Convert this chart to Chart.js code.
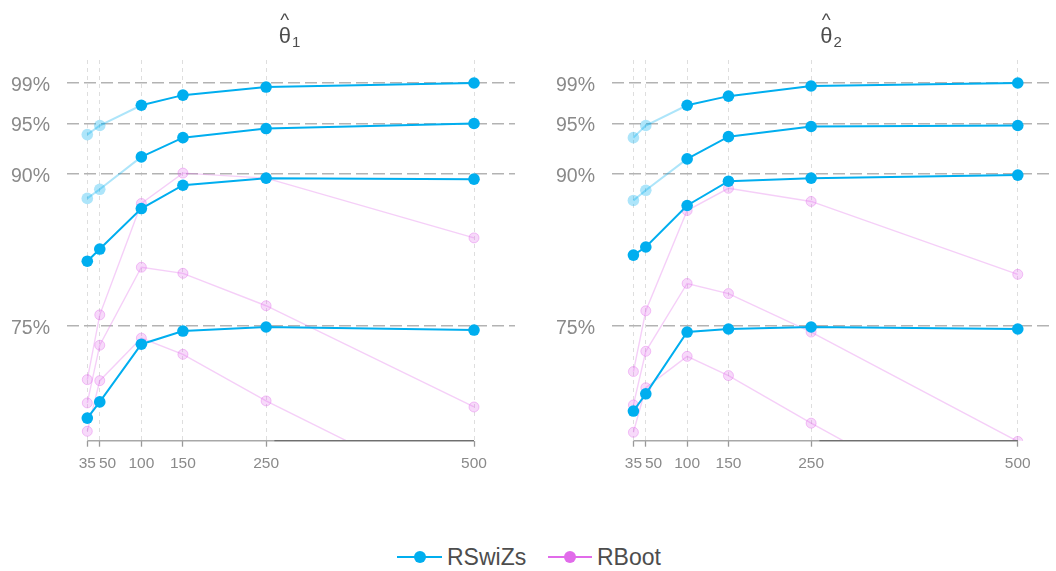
<!DOCTYPE html>
<html>
<head>
<meta charset="utf-8">
<script src="https://cdn.jsdelivr.net/npm/chart.js@4.4.0/dist/chart.umd.min.js"></script>
<style>
  html, body { margin:0; padding:0; background:#fff; width:1056px; height:571px; overflow:hidden; font-family:"Liberation Sans", Arial, sans-serif; }
  #c1 { position:absolute; left:0; top:0; }
  #c2 { position:absolute; left:530px; top:0; }
  .lg-line { position:absolute; height:2px; top:556px; }
  .lg-dot { position:absolute; width:12px; height:12px; border-radius:50%; top:551px; }
  .lg-txt { position:absolute; top:543px; font-size:23px; line-height:28px; color:#4d4d4d; }
</style>
</head>
<body>
<canvas id="c1" width="530" height="490"></canvas>
<canvas id="c2" width="526" height="490"></canvas>

<div class="lg-line" style="left:397px;width:45px;background:#00AEEF"></div>
<div class="lg-dot" style="left:414px;background:#00AEEF"></div>
<div class="lg-txt" style="left:447px">RSwiZs</div>
<div class="lg-line" style="left:548px;width:44px;background:#E16BEA"></div>
<div class="lg-dot" style="left:564px;background:#E16BEA"></div>
<div class="lg-txt" style="left:597px">RBoot</div>

<script>
// ---- data ----
const sampleSizes = [35, 50, 100, 150, 250, 500];
const xTickLabels = ['35', '\u200350', '100', '150', '250', '500'];
const yTickValues = [75, 90, 95, 99];
const seriesNames = ['RSwiZs', 'RBoot'];

// theta_1 panel
const t1_RSwiZs_99 = [93.9, 94.8, 96.8, 97.8, 98.6, 99.0];
const t1_RSwiZs_95 = [87.6, 88.5, 91.7, 93.6, 94.5, 95.0];
const t1_RSwiZs_90 = [81.4, 82.6, 86.6, 88.9, 89.6, 89.5];
const t1_RSwiZs_75 = [65.9, 67.5, 73.2, 74.5, 74.9, 74.6];
const t1_RBoot_99  = [69.7, 76.1, 87.1, 90.1, 89.6, 83.7];
const t1_RBoot_95  = [67.4, 73.1, 80.8, 80.2, 77.0, 67.0];
const t1_RBoot_90  = [64.6, 69.6, 73.8, 72.2, 67.6, 57.4];

// theta_2 panel
const t2_RSwiZs_99 = [93.6, 94.8, 96.8, 97.7, 98.7, 99.0];
const t2_RSwiZs_95 = [87.4, 88.4, 91.5, 93.7, 94.7, 94.8];
const t2_RSwiZs_90 = [82.0, 82.8, 86.9, 89.3, 89.6, 89.9];
const t2_RSwiZs_75 = [66.6, 68.3, 74.4, 74.7, 74.9, 74.7];
const t2_RBoot_99  = [70.5, 76.5, 86.4, 88.6, 87.3, 80.1];
const t2_RBoot_95  = [67.2, 72.5, 79.2, 78.2, 74.4, 63.6];
const t2_RBoot_90  = [64.5, 68.9, 72.0, 70.1, 65.4, 54.2];

// which points are drawn faded (per sample size) for the upper two RSwiZs levels
const fadedHigh = [true, true, false, false, false, false];
const fadedNone = [false, false, false, false, false, false];

// ---- styling ----
const BLUE = 'rgba(0,174,239,1)';
const BLUE_LIGHT = 'rgba(0,174,239,0.32)';
const PINK_LINE = 'rgba(225,107,234,0.32)';
const PINK_FILL = 'rgba(225,107,234,0.26)';
const PINK_BORDER = 'rgba(225,107,234,0.38)';
const FONT = '"Liberation Sans", Arial, sans-serif';

function blueSet(vals, faded) {
  return {
    label: seriesNames[0],
    data: sampleSizes.map((n, i) => ({x: n, y: vals[i]})),
    borderColor: BLUE,
    borderWidth: 2,
    pointRadius: 5.8,
    pointBorderWidth: 0,
    pointBackgroundColor: faded.map(f => f ? BLUE_LIGHT : BLUE),
    pointHoverRadius: 5.8,
    segment: { borderColor: ctx => faded[ctx.p0DataIndex] ? BLUE_LIGHT : BLUE },
    clip: 0,
    tension: 0
  };
}
function pinkSet(vals) {
  return {
    label: seriesNames[1],
    data: sampleSizes.map((n, i) => ({x: n, y: vals[i]})),
    borderColor: PINK_LINE,
    borderWidth: 1.4,
    pointRadius: 5,
    pointBorderWidth: 1,
    pointBackgroundColor: PINK_FILL,
    pointBorderColor: PINK_BORDER,
    clip: 0,
    tension: 0
  };
}

const titlePlugin = {
  id: 'facetTitle',
  afterDraw(chart, args, opts) {
    const ctx = chart.ctx, ca = chart.chartArea;
    const cx = (ca.left + ca.right) / 2 + (opts.dx || 0);
    ctx.save();
    ctx.fillStyle = '#4d4d4d';
    ctx.textBaseline = 'alphabetic';
    ctx.font = '22px ' + FONT;
    const wT = ctx.measureText('θ').width;
    ctx.font = '15px ' + FONT;
    const wS = ctx.measureText(opts.sub).width;
    const x0 = cx - (wT + 1 + wS) / 2;
    ctx.font = '22px ' + FONT;
    ctx.textAlign = 'left';
    ctx.fillText('θ', x0, 43);
    ctx.font = '19px ' + FONT;
    ctx.textAlign = 'center';
    ctx.fillText('^', x0 + wT / 2, 26);
    ctx.font = '15px ' + FONT;
    ctx.textAlign = 'left';
    ctx.fillText(opts.sub, x0 + wT + 1, 47);
    ctx.restore();
  }
};

const axisLinePlugin = {
  id: 'axisLine',
  afterDatasetsDraw(chart) {
    const ctx = chart.ctx, xs = chart.scales.x, y = chart.chartArea.bottom;
    const a = xs.getPixelForValue(sampleSizes[0]);
    const b = xs.getPixelForValue(sampleSizes[sampleSizes.length - 1]);
    const m = xs.getPixelForValue(260);
    ctx.save();
    ctx.lineWidth = 1.5;
    ctx.strokeStyle = '#a8a8a8';
    ctx.beginPath(); ctx.moveTo(a, y); ctx.lineTo(b, y); ctx.stroke();
    ctx.strokeStyle = '#6f6f6f';
    ctx.lineWidth = 1.2;
    ctx.beginPath(); ctx.moveTo(m, y); ctx.lineTo(b, y); ctx.stroke();
    ctx.restore();
  }
};

function makeChart(id, datasets, cfg) {
  return new Chart(document.getElementById(id), {
    type: 'line',
    data: { datasets },
    plugins: [titlePlugin, axisLinePlugin],
    options: {
      responsive: false,
      animation: false,
      devicePixelRatio: 1,
      layout: { padding: { top: 60, right: cfg.padRight, left: 0, bottom: 0 } },
      plugins: {
        legend: { display: false },
        tooltip: { enabled: false },
        facetTitle: { sub: cfg.sub, dx: cfg.dx }
      },
      scales: {
        x: {
          type: 'linear',
          min: cfg.xmin, max: cfg.xmax,
          afterBuildTicks: s => { s.ticks = sampleSizes.map(v => ({ value: v })); },
          afterFit: s => { s.height = 49.3; },
          ticks: {
            autoSkip: false, maxRotation: 0, minRotation: 0,
            color: '#8a8a8a', font: { family: FONT, size: 15.5 }, padding: 8,
            callback: v => xTickLabels[sampleSizes.indexOf(v)]
          },
          grid: {
            color: '#dedede', lineWidth: 1,
            drawTicks: true, tickLength: 6, tickColor: '#999', tickWidth: 1.3,
            tickBorderDash: []
          },
          border: { display: false, dash: [4, 4] }
        },
        y: {
          min: 63.67, max: 101.27,
          afterBuildTicks: s => { s.ticks = yTickValues.map(v => ({ value: v })); },
          afterFit: s => { s.width = cfg.yWidth; },
          ticks: {
            color: '#8a8a8a', font: { family: FONT, size: 19.5 }, padding: 17,
            labelOffset: 2.5,
            callback: v => v + '%'
          },
          grid: { color: '#b3b3b3', lineWidth: 1.6, drawTicks: false },
          border: { display: false, dash: [12, 5] }
        }
      }
    }
  });
}

makeChart('c1', [
  blueSet(t1_RSwiZs_99, fadedHigh),
  blueSet(t1_RSwiZs_95, fadedHigh),
  blueSet(t1_RSwiZs_90, fadedNone),
  blueSet(t1_RSwiZs_75, fadedNone),
  pinkSet(t1_RBoot_99),
  pinkSet(t1_RBoot_95),
  pinkSet(t1_RBoot_90)
], { sub: '1', dx: -1.5, padRight: 15, yWidth: 67, xmin: 10.6, xmax: 549.3 });

makeChart('c2', [
  blueSet(t2_RSwiZs_99, fadedHigh),
  blueSet(t2_RSwiZs_95, fadedHigh),
  blueSet(t2_RSwiZs_90, fadedNone),
  blueSet(t2_RSwiZs_75, fadedNone),
  pinkSet(t2_RBoot_99),
  pinkSet(t2_RBoot_95),
  pinkSet(t2_RBoot_90)
], { sub: '2', dx: 0, padRight: 0, yWidth: 82, xmin: 9.1, xmax: 539 });
</script>
</body>
</html>
